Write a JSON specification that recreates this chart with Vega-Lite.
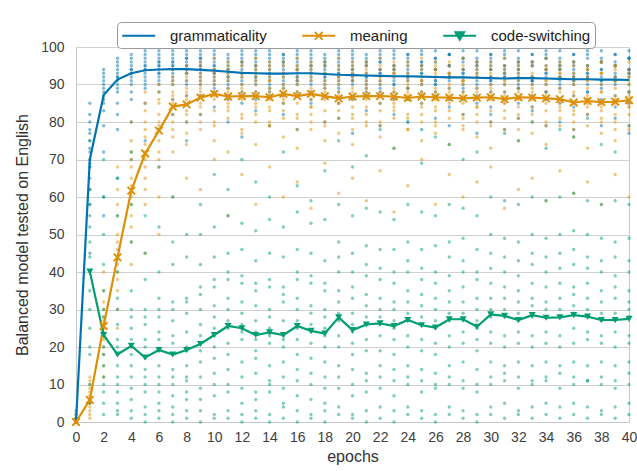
{
"$schema": "https://vega.github.io/schema/vega-lite/v6.json",
"width": 553, "height": 375,
"autosize": "none",
"padding": {"left": 76, "top": 47, "right": 8, "bottom": 49},
"background": "white",
"config": {
  "font": "Liberation Sans",
  "view": {"stroke": "#c8c8c8", "strokeWidth": 1},
  "axis": {"labelFont": "Liberation Sans", "titleFont": "Liberation Sans", "labelColor": "#404040", "titleColor": "#333333", "titleFontWeight": "normal", "domainColor": "#c8c8c8", "ticks": false}
},
"datasets": {
  "pts": [
    {"e":0,"s":"grammaticality","v":[0,0,1,0,2]},
    {"e":1,"s":"grammaticality","v":[72,78,65,70,82,58,75,68,80,62,77,45,73,85,69]},
    {"e":2,"s":"grammaticality","v":[88,92,85,90,79,94,86,60,91,83,89,93,72,87,55]},
    {"e":3,"s":"grammaticality","v":[91,94,88,96,90,85,93,92,97,65,89,95,82,92,78]},
    {"e":4,"s":"grammaticality","v":[93,95,90,97,92,88,96,94,91,70,93,98,86,94,80]},
    {"e":5,"s":"grammaticality","v":[94,96,92,98,93,89,95,97,91,75,94,99,90,95,85]},
    {"e":6,"s":"grammaticality","v":[95,97,93,98,92,90,96,94,96,78,93,99,91,95,88]},
    {"e":7,"s":"grammaticality","v":[94,96,92,98,95,91,97,93,96,82,94,99,90,95,86]},
    {"e":8,"s":"grammaticality","v":[95,97,93,98,94,90,96,93,97,80,94,99,91,95,87]},
    {"e":9,"s":"grammaticality","v":[94,97,92,98,95,90,96,93,97,82,94,99,91,95,87]},
    {"e":10,"s":"grammaticality","v":[93,96,91,98,94,89,97,92,95,84,93,99,90,95,88]},
    {"e":11,"s":"grammaticality","v":[92,95,90,97,93,87,96,91,94,80,92,98,89,94,86]},
    {"e":12,"s":"grammaticality","v":[94,97,92,96,90,93,98,88,95,76,91,99,93,96,85]},
    {"e":13,"s":"grammaticality","v":[93,95,91,98,92,88,97,94,96,83,90,99,92,95,86]},
    {"e":14,"s":"grammaticality","v":[92,96,93,97,91,89,98,90,94,79,93,99,88,95,87]},
    {"e":15,"s":"grammaticality","v":[94,96,90,98,93,87,97,92,95,82,91,98,89,96,85]},
    {"e":16,"s":"grammaticality","v":[93,97,91,96,94,90,98,92,95,78,92,99,91,94,88]},
    {"e":17,"s":"grammaticality","v":[95,96,92,98,93,88,97,91,94,85,93,99,90,95,86]},
    {"e":18,"s":"grammaticality","v":[92,95,91,97,94,89,96,93,95,80,92,98,90,96,87]},
    {"e":19,"s":"grammaticality","v":[93,96,90,97,92,88,98,91,94,81,93,99,89,95,85]},
    {"e":20,"s":"grammaticality","v":[94,95,91,98,93,87,97,92,96,77,91,99,90,94,86]},
    {"e":21,"s":"grammaticality","v":[92,96,93,97,91,89,96,90,95,83,92,98,88,95,87]},
    {"e":22,"s":"grammaticality","v":[93,97,90,96,94,88,98,91,94,79,93,99,89,96,85]},
    {"e":23,"s":"grammaticality","v":[94,95,92,98,93,86,97,90,95,82,91,99,90,94,88]},
    {"e":24,"s":"grammaticality","v":[92,96,91,97,92,89,98,93,94,80,92,98,89,95,86]},
    {"e":25,"s":"grammaticality","v":[93,95,90,98,94,87,96,91,95,78,93,99,88,96,85]},
    {"e":26,"s":"grammaticality","v":[94,96,92,97,91,88,97,90,94,81,91,99,90,94,87]},
    {"e":27,"s":"grammaticality","v":[92,95,91,98,93,86,98,92,95,79,92,98,89,95,84]},
    {"e":28,"s":"grammaticality","v":[93,97,90,96,92,89,97,91,94,82,93,99,88,94,86]},
    {"e":29,"s":"grammaticality","v":[94,95,92,97,93,87,96,90,95,77,91,99,89,96,85]},
    {"e":30,"s":"grammaticality","v":[92,96,91,98,94,88,97,91,94,80,92,98,90,95,84]},
    {"e":31,"s":"grammaticality","v":[93,95,90,97,92,86,98,92,95,78,93,99,88,94,86]},
    {"e":32,"s":"grammaticality","v":[94,96,92,96,93,89,97,90,94,81,91,99,89,95,85]},
    {"e":33,"s":"grammaticality","v":[92,95,91,98,91,87,96,91,95,83,92,98,90,96,84]},
    {"e":34,"s":"grammaticality","v":[93,97,90,97,94,88,98,92,94,79,93,99,88,95,86]},
    {"e":35,"s":"grammaticality","v":[94,95,92,96,92,86,97,90,95,80,91,99,89,94,85]},
    {"e":36,"s":"grammaticality","v":[92,96,91,98,93,87,96,91,94,78,92,98,90,95,84]},
    {"e":37,"s":"grammaticality","v":[93,95,90,97,92,88,98,92,95,82,93,99,88,94,86]},
    {"e":38,"s":"grammaticality","v":[94,96,92,96,91,86,97,90,94,79,91,99,89,96,85]},
    {"e":39,"s":"grammaticality","v":[92,95,91,98,93,87,96,91,95,81,92,98,90,95,84]},
    {"e":40,"s":"grammaticality","v":[93,97,90,97,94,88,97,92,94,77,93,99,88,94,85]},
    {"e":0,"s":"meaning","v":[0,1,0,2,0]},
    {"e":1,"s":"meaning","v":[5,8,3,10,6,12,2,7,4,9,6,1,11,5]},
    {"e":2,"s":"meaning","v":[22,28,18,32,25,20,30,15,27,35,24,40,12,26]},
    {"e":3,"s":"meaning","v":[44,38,50,30,62,46,25,55,40,68,35,48,58,42]},
    {"e":4,"s":"meaning","v":[62,58,70,48,75,65,52,80,60,42,68,72,55,63]},
    {"e":5,"s":"meaning","v":[72,80,65,85,58,76,88,68,45,78,70,83,62,74]},
    {"e":6,"s":"meaning","v":[78,85,72,88,60,80,90,75,50,82,70,86,68,79]},
    {"e":7,"s":"meaning","v":[85,90,80,92,72,87,94,82,60,88,78,91,76,86]},
    {"e":8,"s":"meaning","v":[86,91,82,93,74,88,95,83,65,89,80,92,77,87]},
    {"e":9,"s":"meaning","v":[87,92,84,95,78,89,96,85,62,90,82,93,80,88,91]},
    {"e":10,"s":"meaning","v":[88,93,83,94,75,90,97,86,70,91,80,92,79,87,94]},
    {"e":11,"s":"meaning","v":[86,91,85,96,72,88,95,84,55,92,83,94,81,89,93]},
    {"e":12,"s":"meaning","v":[87,93,82,95,77,89,96,86,66,90,81,93,78,88,92]},
    {"e":13,"s":"meaning","v":[88,92,84,94,74,90,97,85,58,91,82,95,80,87,93]},
    {"e":14,"s":"meaning","v":[86,91,83,96,79,88,95,84,68,92,80,94,79,89,91]},
    {"e":15,"s":"meaning","v":[87,93,85,95,76,89,96,86,60,90,83,93,81,88,92]},
    {"e":16,"s":"meaning","v":[88,92,82,94,73,90,97,85,64,91,81,95,78,87,94]},
    {"e":17,"s":"meaning","v":[86,93,84,96,78,88,95,84,57,92,82,94,80,89,91]},
    {"e":18,"s":"meaning","v":[87,91,83,95,75,89,96,86,69,90,80,93,79,88,93]},
    {"e":19,"s":"meaning","v":[88,92,85,94,77,90,97,85,61,91,83,95,81,87,92]},
    {"e":20,"s":"meaning","v":[86,93,82,96,74,88,95,84,65,92,81,94,78,89,91]},
    {"e":21,"s":"meaning","v":[87,91,84,95,79,89,96,86,59,90,82,93,80,88,94]},
    {"e":22,"s":"meaning","v":[88,92,83,94,76,90,97,85,67,91,80,95,79,87,92]},
    {"e":23,"s":"meaning","v":[86,93,85,96,73,88,95,84,56,92,83,94,81,89,93]},
    {"e":24,"s":"meaning","v":[87,92,82,95,78,89,96,86,63,90,81,93,78,88,91]},
    {"e":25,"s":"meaning","v":[88,91,84,94,75,90,97,85,70,91,82,95,80,87,92]},
    {"e":26,"s":"meaning","v":[86,93,83,96,77,88,95,84,58,92,80,94,79,89,94]},
    {"e":27,"s":"meaning","v":[87,92,85,95,74,89,96,86,66,90,83,93,81,88,93]},
    {"e":28,"s":"meaning","v":[88,91,82,94,79,90,97,85,60,91,81,95,78,87,91]},
    {"e":29,"s":"meaning","v":[86,93,84,96,76,88,95,84,64,92,82,94,80,89,92]},
    {"e":30,"s":"meaning","v":[87,92,83,95,73,89,96,86,68,90,80,93,79,88,94]},
    {"e":31,"s":"meaning","v":[88,91,85,94,78,90,97,85,57,91,83,95,81,87,93]},
    {"e":32,"s":"meaning","v":[86,93,82,96,75,88,95,84,62,92,81,94,78,89,91]},
    {"e":33,"s":"meaning","v":[87,92,84,95,77,89,96,86,65,90,82,93,80,88,92]},
    {"e":34,"s":"meaning","v":[88,91,83,94,74,90,97,85,59,91,80,95,79,87,94]},
    {"e":35,"s":"meaning","v":[86,93,85,96,79,88,95,84,67,92,83,94,81,89,93]},
    {"e":36,"s":"meaning","v":[85,92,82,95,76,87,96,83,61,90,80,93,78,88,91]},
    {"e":37,"s":"meaning","v":[86,91,84,94,73,89,95,85,64,91,82,94,79,87,92]},
    {"e":38,"s":"meaning","v":[85,93,83,96,77,88,96,84,58,90,81,93,80,88,93]},
    {"e":39,"s":"meaning","v":[86,92,82,95,75,87,95,85,66,91,80,94,78,89,91]},
    {"e":40,"s":"meaning","v":[85,91,84,94,78,88,96,84,60,90,82,93,79,87,92]},
    {"e":0,"s":"code-switching","v":[0,0,1,3,0]},
    {"e":1,"s":"code-switching","v":[40,55,20,62,35,75,10,48,30,68,5,44,52,25,58,18]},
    {"e":2,"s":"code-switching","v":[23,10,35,5,42,18,60,2,28,15,50,8,30,20,70,12]},
    {"e":3,"s":"code-switching","v":[18,5,30,2,12,40,22,8,55,15,3,26,10,20,65,33]},
    {"e":4,"s":"code-switching","v":[20,6,35,12,48,3,25,15,58,9,28,18,1,22,72,30]},
    {"e":5,"s":"code-switching","v":[17,4,28,10,45,2,22,14,38,8,30,12,0,20,55,26]},
    {"e":6,"s":"code-switching","v":[19,5,30,12,52,3,24,15,40,8,33,10,1,22,68,28]},
    {"e":7,"s":"code-switching","v":[18,4,32,10,48,2,23,14,42,7,27,12,0,21,60,30]},
    {"e":8,"s":"code-switching","v":[19,6,33,11,50,3,24,15,44,8,29,12,1,20,75,32]},
    {"e":9,"s":"code-switching","v":[21,6,34,12,50,3,26,16,42,9,30,19,0,23,58,36]},
    {"e":10,"s":"code-switching","v":[23,7,36,13,52,2,28,17,44,10,31,20,1,25,66,38]},
    {"e":11,"s":"code-switching","v":[25,8,38,14,55,3,30,18,45,10,33,21,1,27,62,40]},
    {"e":12,"s":"code-switching","v":[24,5,37,12,53,2,29,16,46,9,32,22,0,26,70,39]},
    {"e":13,"s":"code-switching","v":[22,6,35,13,51,3,27,17,43,8,31,19,1,24,64,37]},
    {"e":14,"s":"code-switching","v":[23,8,36,11,54,2,28,15,45,10,30,21,0,25,60,38]},
    {"e":15,"s":"code-switching","v":[22,5,34,12,52,4,27,16,44,9,32,20,1,23,72,36]},
    {"e":16,"s":"code-switching","v":[25,7,38,14,56,3,30,18,46,11,33,22,0,27,63,40]},
    {"e":17,"s":"code-switching","v":[24,6,37,13,53,2,29,17,45,10,31,21,1,26,59,39]},
    {"e":18,"s":"code-switching","v":[23,5,35,12,54,3,28,16,43,9,30,20,0,25,67,37]},
    {"e":19,"s":"code-switching","v":[27,9,40,15,58,4,32,20,48,12,35,23,2,29,75,44]},
    {"e":20,"s":"code-switching","v":[24,7,36,14,55,2,29,18,45,10,33,21,1,26,68,40]},
    {"e":21,"s":"code-switching","v":[26,8,39,13,57,3,31,19,47,11,34,22,0,28,71,42]},
    {"e":22,"s":"code-switching","v":[26,9,38,15,56,4,30,19,46,12,33,23,1,28,78,41]},
    {"e":23,"s":"code-switching","v":[25,7,37,14,54,3,30,18,46,11,32,22,0,27,73,40]},
    {"e":24,"s":"code-switching","v":[27,10,40,15,58,4,32,20,48,12,35,23,2,29,80,43]},
    {"e":25,"s":"code-switching","v":[26,8,38,14,56,3,31,19,46,11,34,22,1,28,69,41]},
    {"e":26,"s":"code-switching","v":[25,9,37,13,55,2,30,18,47,10,33,21,0,27,76,40]},
    {"e":27,"s":"code-switching","v":[27,10,39,15,58,4,32,20,48,12,35,23,2,29,74,44]},
    {"e":28,"s":"code-switching","v":[27,9,40,16,57,3,32,21,49,11,36,24,1,29,70,43]},
    {"e":29,"s":"code-switching","v":[25,8,38,14,55,2,30,19,46,10,33,22,0,27,72,40]},
    {"e":30,"s":"code-switching","v":[28,10,41,16,60,4,33,21,50,12,37,24,2,30,82,45]},
    {"e":31,"s":"code-switching","v":[28,11,40,15,59,5,33,20,49,13,36,23,1,30,77,44]},
    {"e":32,"s":"code-switching","v":[27,9,39,16,58,3,32,21,48,12,35,24,2,29,75,43]},
    {"e":33,"s":"code-switching","v":[28,10,42,15,60,4,33,20,50,11,37,23,1,31,80,45]},
    {"e":34,"s":"code-switching","v":[28,11,40,16,59,5,32,21,49,12,36,24,2,30,73,44]},
    {"e":35,"s":"code-switching","v":[28,9,41,15,60,4,33,20,50,13,37,23,1,30,78,45]},
    {"e":36,"s":"code-switching","v":[29,10,42,16,61,5,34,21,51,12,36,25,2,31,76,46]},
    {"e":37,"s":"code-switching","v":[28,11,41,15,59,4,33,22,50,11,37,24,1,30,81,44]},
    {"e":38,"s":"code-switching","v":[27,10,40,16,58,3,32,21,49,12,35,23,2,29,74,43]},
    {"e":39,"s":"code-switching","v":[27,9,39,15,59,4,33,20,48,11,36,24,1,29,72,44]},
    {"e":40,"s":"code-switching","v":[28,10,40,16,58,5,32,21,49,13,35,23,2,30,79,43]}
  ],
  "lines": [
    {"s":"grammaticality","e":[0,1,2,3,4,5,6,7,8,9,10,11,12,13,14,15,16,17,18,19,20,21,22,23,24,25,26,27,28,29,30,31,32,33,34,35,36,37,38,39,40],
     "v":[0,70,87.2,91.3,93,93.8,94,94.1,94.1,93.9,93.7,93.4,93.1,93,92.9,92.9,93,93,92.8,92.6,92.5,92.4,92.3,92.2,92.2,92.1,92,91.9,91.9,91.8,91.7,91.6,91.7,91.7,91.6,91.5,91.4,91.4,91.3,91.3,91.2]},
    {"s":"meaning","e":[0,1,2,3,4,5,6,7,8,9,10,11,12,13,14,15,16,17,18,19,20,21,22,23,24,25,26,27,28,29,30,31,32,33,34,35,36,37,38,39,40],
     "v":[0,5.9,25.6,43.9,61.7,71.6,77.7,84.1,84.7,86.5,87.5,86.8,86.9,86.9,86.6,87.5,86.9,87.5,86.9,86.3,86.8,86.9,86.9,86.8,86.4,86.8,86.6,86.5,86.3,86.5,86.6,86.1,86.6,86.5,86.3,86.1,85.2,85.6,85.3,85.4,85.8]},
    {"s":"code-switching","e":[1,2,3,4,5,6,7,8,9,10,11,12,13,14,15,16,17,18,19,20,21,22,23,24,25,26,27,28,29,30,31,32,33,34,35,36,37,38,39,40],
     "v":[40.1,23.2,18,20.3,17.2,19.2,18,19.2,20.8,23.2,25.6,25,23.2,23.9,23.2,25.6,24.3,23.6,27.9,24.5,26,26.3,25.6,27.2,25.8,25.2,27.4,27.4,25.4,28.7,28.3,27.2,28.5,27.8,27.9,28.5,28.1,27.2,27.2,27.5]}
  ]
},
"encoding": {
  "x": {"field": "e", "type": "quantitative", "scale": {"domain": [0, 40], "nice": false},
        "axis": {"values": [0,2,4,6,8,10,12,14,16,18,20,22,24,26,28,30,32,34,36,38,40], "grid": false, "labelFontSize": 14, "labelPadding": 8, "title": "epochs", "titleFontSize": 16, "titlePadding": 4, "labelFlush": false}},
  "y": {"field": "v", "type": "quantitative", "scale": {"domain": [0, 100], "nice": false},
        "axis": {"values": [0,10,20,30,40,50,60,70,80,90,100], "grid": true, "gridColor": "#d0d0d0", "gridWidth": 1.2, "labelFontSize": 14, "labelPadding": 12, "title": "Balanced model tested on English", "titleFontSize": 16, "titlePadding": 10}},
  "color": {"field": "s", "type": "nominal", "scale": {"domain": ["grammaticality", "meaning", "code-switching"], "range": ["#0173B2", "#DE8F05", "#029E73"]},
    "legend": {"orient": "none", "legendX": 41, "legendY": -25, "direction": "horizontal", "title": null,
      "labelFont": "Liberation Sans", "labelFontSize": 15, "labelColor": "#222222",
      "symbolSize": 272, "symbolType": "stroke", "symbolStrokeWidth": 1.8, "symbolOpacity": 1, "columnPadding": 31, "labelOffset": 30, "padding": 4,
      "fillColor": "white", "strokeColor": "#999999", "cornerRadius": 4,
      "encode": {"symbols": {"update": {
        "shape": {"signal": "datum.value === 'grammaticality' ? 'M-1,0H3' : (datum.value === 'meaning' ? 'M-1,0H3M0.52,-0.48L1.48,0.48M0.52,0.48L1.48,-0.48' : 'M-1,0H3M0.45,-0.45L1.55,-0.45L1,0.5Z')"},
        "stroke": {"scale": "color", "field": "value"},
        "fill": {"scale": "color", "field": "value"}
      }}}}}
},
"layer": [
  {
    "data": {"name": "pts"},
    "transform": [
      {"flatten": ["v"]},
      {"window": [{"op": "row_number", "as": "i"}], "groupby": ["e", "s"]}
    ],
    "mark": {"type": "point", "filled": true, "size": 11, "opacity": 0.5},
    "encoding": {
      "xOffset": {"field": "i", "type": "quantitative", "scale": {"domain": [1, 16], "range": [-7, 7]}}
    }
  },
  {
    "data": {"name": "lines"},
    "transform": [{"flatten": ["e", "v"]}],
    "mark": {"type": "line", "strokeWidth": 2.2}
  },
  {
    "data": {"name": "lines"},
    "transform": [{"flatten": ["e", "v"]}, {"filter": "datum.s === 'meaning'"}],
    "mark": {"type": "point", "shape": "M-1,-1L1,1M-1,1L1,-1", "filled": false, "size": 56, "strokeWidth": 2, "opacity": 1}
  },
  {
    "data": {"name": "lines"},
    "transform": [{"flatten": ["e", "v"]}, {"filter": "datum.s === 'code-switching'"}],
    "mark": {"type": "point", "shape": "triangle-down", "filled": true, "size": 50, "opacity": 1}
  }
]
}
